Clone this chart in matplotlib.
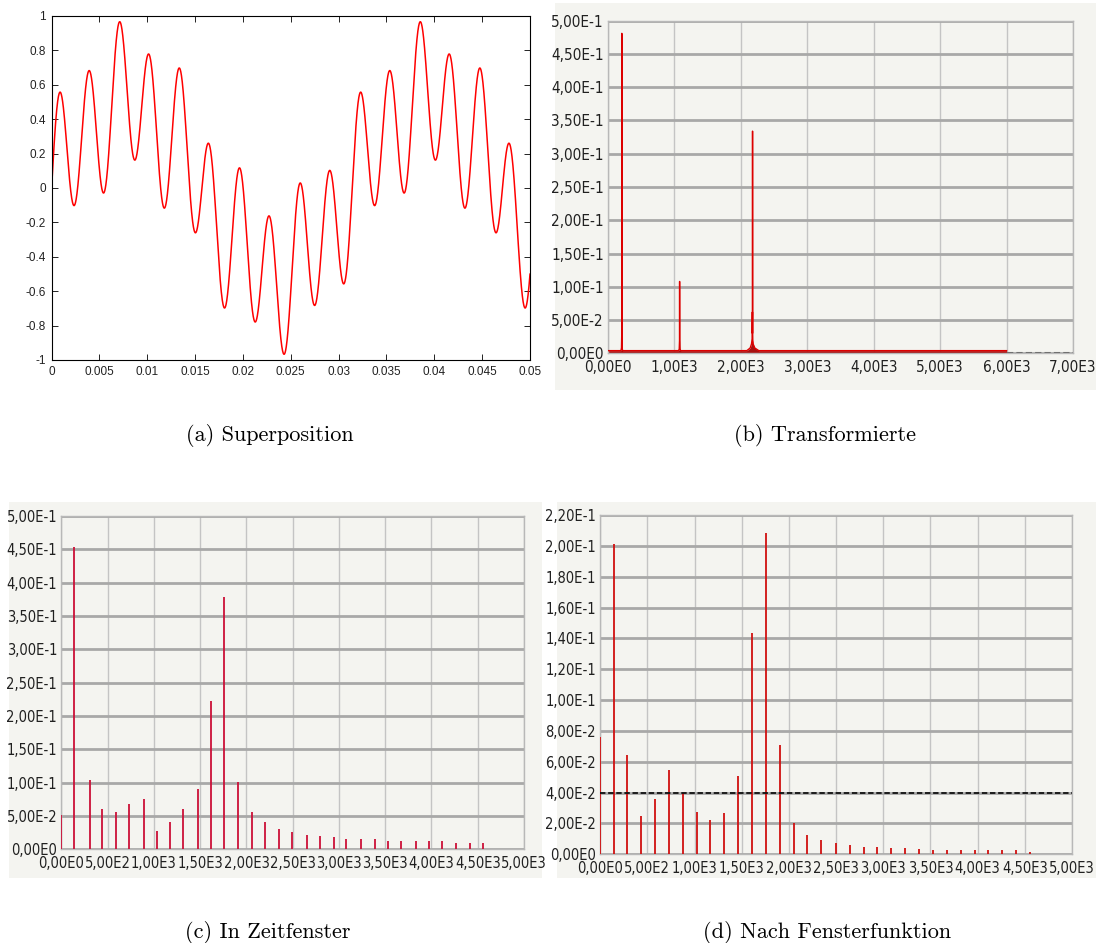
import numpy as np
import matplotlib
matplotlib.use('Agg')
import matplotlib.pyplot as plt
from matplotlib.patches import Rectangle
from matplotlib.ticker import FuncFormatter, MultipleLocator

W, H = 1096, 943

# (a) superposition: components (amplitude, angular frequency in rad/s)
sig_amp = [0.5, 0.1, 0.4]
sig_omega = [200, 1000, 2000]
sig_tmax = 0.05

# (b) transformed spectrum (frequency, magnitude)
b_freq = [0, 150, 195, 203, 207, 208, 209, 213, 220, 600, 1060, 1072, 1077, 1078, 1079, 1084, 1095,
          1700, 2090, 2140, 2160, 2170, 2174, 2175, 2176, 2177, 2178, 2185, 2210, 2270, 2400, 6000]
b_amp = [0.004, 0.004, 0.004, 0.008, 0.03, 0.481, 0.03, 0.008, 0.004, 0.004, 0.004, 0.006, 0.02, 0.108, 0.02, 0.006, 0.004,
         0.004, 0.004, 0.008, 0.014, 0.022, 0.062, 0.03, 0.334, 0.03, 0.02, 0.014, 0.008, 0.004, 0.004, 0.004]
b_tail_x = [6000, 7000]

# (c) in time window
c_freq = [0, 139, 305, 440, 591, 730, 889, 1028, 1175, 1318, 1476, 1615, 1762, 1905, 2063, 2206,
          2349, 2492, 2654, 2794, 2944, 3080, 3242, 3385, 3528, 3671, 3829, 3972, 4119, 4262, 4420, 4556]
c_amp = [0.051, 0.454, 0.104, 0.061, 0.056, 0.068, 0.076, 0.027, 0.041, 0.060, 0.091, 0.222, 0.378, 0.101, 0.056, 0.041,
         0.030, 0.026, 0.022, 0.020, 0.019, 0.015, 0.015, 0.015, 0.0125, 0.0125, 0.0125, 0.0125, 0.0125, 0.010, 0.010, 0.010]

# (d) after window function
d_freq = [0, 142, 287, 433, 582, 728, 877, 1023, 1168, 1317, 1463, 1608, 1754, 1903, 2049, 2194,
          2344, 2496, 2646, 2791, 2937, 3086, 3231, 3381, 3526, 3675, 3821, 3967, 4112, 4258, 4411, 4556]
d_amp = [0.0759, 0.201, 0.0644, 0.0249, 0.0359, 0.0547, 0.0395, 0.0277, 0.0223, 0.0266, 0.0508, 0.1433, 0.2081, 0.0709, 0.0201, 0.0125,
         0.0093, 0.0071, 0.006, 0.005, 0.005, 0.004, 0.004, 0.0032, 0.003, 0.0028, 0.0028, 0.0028, 0.0028, 0.0028, 0.0028, 0.0017]
d_threshold = 0.04

captions = ['(a) Superposition', '(b) Transformierte', '(c) In Zeitfenster', '(d) Nach Fensterfunktion']

BG = '#f4f4f0'
GRID_H = '#a8a8a8'
GRID_V = '#c4c4c4'

plt.rcParams['axes.unicode_minus'] = False


def px_box(left, top, right, bottom):
    return [left / W, 1 - bottom / H, (right - left) / W, (bottom - top) / H]


def sci_comma(v, pos=None):
    mant, exp = f'{v:.2E}'.split('E')
    return mant.replace('.', ',') + 'E' + str(int(exp))


def style_spectrum(ax, xmax, xstep, ymax, ystep, size=10.5):
    ax.set_facecolor(BG)
    ax.set_xlim(0, xmax)
    ax.set_ylim(0, ymax)
    ax.xaxis.set_major_locator(MultipleLocator(xstep))
    ax.yaxis.set_major_locator(MultipleLocator(ystep))
    ax.xaxis.set_major_formatter(FuncFormatter(sci_comma))
    ax.yaxis.set_major_formatter(FuncFormatter(sci_comma))
    ax.grid(axis='y', color=GRID_H, lw=2, zorder=0)
    ax.grid(axis='x', color=GRID_V, lw=1, zorder=0)
    ax.set_axisbelow(True)
    for s in ax.spines.values():
        s.set_color('#b8b8b8')
        s.set_linewidth(1)
    ax.tick_params(axis='y', length=0, pad=3, labelsize=size, labelcolor='#202020')
    ax.tick_params(axis='x', length=0, pad=5, labelsize=size, labelcolor='#202020')
    for lab in ax.get_xticklabels() + ax.get_yticklabels():
        lab.set_family('DejaVu Sans')
        lab.set_fontstretch('condensed')


fig = plt.figure(figsize=(W / 100, H / 100), dpi=100)

for box in [(555, 3, 1096, 390), (9, 502, 542, 878), (557, 502, 1096, 878)]:
    fig.add_artist(Rectangle((box[0] / W, 1 - box[3] / H), (box[2] - box[0]) / W, (box[3] - box[1]) / H,
                             transform=fig.transFigure, facecolor=BG, edgecolor='none', zorder=-10))

# (a)
ax_a = fig.add_axes(px_box(51.6, 16, 530, 360))
t = np.linspace(0, sig_tmax, 3000)
y = sum(a * np.sin(w * t) for a, w in zip(sig_amp, sig_omega))
ax_a.plot(t, y, color='#ff0000', lw=1.1)
ax_a.set_xlim(0, sig_tmax)
ax_a.set_ylim(-1, 1)
ax_a.xaxis.set_major_locator(MultipleLocator(0.005))
ax_a.yaxis.set_major_locator(MultipleLocator(0.2))
ax_a.xaxis.set_major_formatter(FuncFormatter(lambda v, p: f'{round(v, 4):g}'))
ax_a.yaxis.set_major_formatter(FuncFormatter(lambda v, p: f'{round(v, 2):g}'))
ax_a.tick_params(direction='in', top=True, right=True, length=4, width=0.6,
                 labelsize=8.5, labelcolor='#222222', pad=4)
for lab in ax_a.get_xticklabels() + ax_a.get_yticklabels():
    lab.set_family(['Liberation Sans', 'DejaVu Sans'])
for s in ax_a.spines.values():
    s.set_linewidth(0.8)

# (b)
ax_b = fig.add_axes(px_box(608, 20.7, 1073, 353.3))
ax_b.fill_between(b_freq, 0, b_amp, color='#a81010', lw=0, zorder=2)
ax_b.plot(b_freq, b_amp, color='#dd0000', lw=1, zorder=3)
ax_b.plot(b_tail_x, [0, 0], color='#707070', lw=1.5, ls=(0, (3, 1.5)), zorder=3)
style_spectrum(ax_b, 7000, 1000, 0.5, 0.05, size=11)

# (c)
ax_c = fig.add_axes(px_box(61.4, 516, 524, 849.3))
ax_c.vlines(c_freq, 0, c_amp, color='#cc1038', lw=1.3, zorder=3)
style_spectrum(ax_c, 5000, 500, 0.5, 0.05)

# (d)
ax_d = fig.add_axes(px_box(600.2, 515, 1072, 854.3))
ax_d.vlines(d_freq, 0, d_amp, color='#d01010', lw=1.3, zorder=3)
ax_d.axhline(d_threshold, color='#111111', lw=1.3, ls=(0, (3, 1.5)), zorder=4)
style_spectrum(ax_d, 5000, 500, 0.22, 0.02)

# captions
for (cx, cy), text in zip([(270, 435), (825, 435), (268, 932), (827, 932)], captions):
    fig.text(cx / W, 1 - cy / H, text, family='cmr10', fontsize=16, ha='center', va='center')

fig.savefig('out.png', dpi=100)
